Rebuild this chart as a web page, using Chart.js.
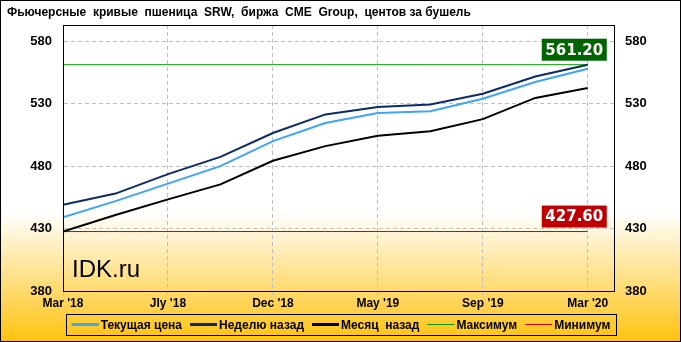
<!DOCTYPE html>
<html>
<head>
<meta charset="utf-8">
<script src="https://cdn.jsdelivr.net/npm/chart.js@4/dist/chart.umd.min.js"></script>
<style>
    html, body { margin: 0; padding: 0; background: #fff; }
    canvas { display: block; }
</style>
</head>
<body>
<canvas id="futuresChart" width="681" height="342"></canvas>
<script>
// Данные графика
const xLabels = ["Mar '18", "May '18", "Jly '18", "Sep '18", "Dec '18", "Mar '19", "May '19", "Jly '19", "Sep '19", "Dec '19", "Mar '20"];
const currentPrice = [439, 452, 466, 480, 500, 514.5, 522.5, 524, 534, 547.3, 558];
const weekAgo = [449, 458, 473.6, 487.4, 506.5, 521.4, 527.3, 529.4, 538, 551.8, 561.2];
const monthAgo = [427.6, 440.8, 453.4, 465.4, 484.3, 496, 504.3, 508, 517.6, 534.6, 542.6];
const maxValue = 561.2;
const minValue = 427.6;
const yTicks = [380, 430, 480, 530, 580];
const xTickIndexes = [0, 2, 4, 6, 8, 10];
const seriesNames = ['Текущая цена', 'Неделю назад', 'Месяц  назад', 'Максимум', 'Минимум'];
const titleText = 'Фьючерсные  кривые  пшеница  SRW,  биржа  CME  Group,  центов за бушель';

const FONT = "'Liberation Sans', Arial, sans-serif";

function toPoints(values) {
    return values.map((v, i) => ({ x: i, y: v }));
}

function flatLine(value) {
    return [{ x: 0, y: value }, { x: xLabels.length - 1, y: value }];
}

// Фон, рамка и заголовок
const backgroundPlugin = {
    id: 'background',
    beforeDraw(chart) {
        const ctx = chart.ctx;
        const w = chart.width, h = chart.height;
        const grad = ctx.createLinearGradient(0, 0, 0, h);
        grad.addColorStop(0, '#ffffff');
        grad.addColorStop(0.62, '#ffffff');
        grad.addColorStop(1, '#ffc20e');
        ctx.save();
        ctx.fillStyle = grad;
        ctx.fillRect(0, 0, w, h);
        ctx.strokeStyle = '#000';
        ctx.lineWidth = 1;
        ctx.strokeRect(0.5, 0.5, w - 1, h - 1);
        ctx.fillStyle = '#000';
        ctx.font = 'bold 12px ' + FONT;
        ctx.textBaseline = 'middle';
        ctx.fillText(titleText, 7, 13);
        ctx.restore();
    },
    afterDraw(chart) {
        const ctx = chart.ctx;
        const a = chart.chartArea;
        ctx.save();
        ctx.strokeStyle = '#000';
        ctx.lineWidth = 1;
        ctx.strokeRect(Math.round(a.left) + 0.5, Math.round(a.top) + 0.5,
            Math.round(a.right - a.left), Math.round(a.bottom - a.top));
        ctx.restore();
    }
};

// Подписи максимума и минимума + водяной знак
const markersPlugin = {
    id: 'markers',
    afterDatasetsDraw(chart) {
        const ctx = chart.ctx;
        const xs = chart.scales.x, ys = chart.scales.y;
        const right = xs.getPixelForValue(xLabels.length - 1) + 19;
        const boxes = [
            { value: maxValue, bg: '#006400' },
            { value: minValue, bg: '#c00000' }
        ];
        ctx.save();
        ctx.font = 'bold 15px "DejaVu Sans", sans-serif';
        ctx.textAlign = 'center';
        ctx.textBaseline = 'middle';
        boxes.forEach(b => {
            const y = ys.getPixelForValue(b.value);
            const bw = 65, bh = 22;
            const left = right - bw;
            const top = y - 4 - bh;
            ctx.fillStyle = b.bg;
            ctx.fillRect(left, top, bw, bh);
            ctx.fillStyle = '#fff';
            ctx.fillText(b.value.toFixed(2), left + bw / 2, top + bh / 2 + 1);
        });
        ctx.textAlign = 'left';
        ctx.textBaseline = 'alphabetic';
        ctx.fillStyle = '#000';
        ctx.font = '24px ' + FONT;
        ctx.fillText('IDK.ru', 72, 277);
        ctx.restore();
    }
};

// Легенда в рамке снизу
const legendBoxPlugin = {
    id: 'legendBox',
    afterDraw(chart) {
        const ctx = chart.ctx;
        const boxLeft = 66, boxRight = 616, boxTop = 314, boxBottom = 335;
        ctx.save();
        ctx.font = 'bold 12px ' + FONT;
        const sample = 27, gap = 2, itemGap = 8;
        const items = chart.data.datasets.map(ds => ({
            text: ds.label,
            color: ds.borderColor,
            width: ds.borderWidth,
            tw: ctx.measureText(ds.label).width
        }));
        let total = 0;
        items.forEach((it, i) => {
            total += sample + gap + it.tw + (i < items.length - 1 ? itemGap : 0);
        });
        let x = (boxLeft + boxRight) / 2 - total / 2;
        const cy = (boxTop + boxBottom) / 2;
        ctx.strokeStyle = '#000';
        ctx.lineWidth = 1;
        ctx.strokeRect(boxLeft + 0.5, boxTop + 0.5, boxRight - boxLeft, boxBottom - boxTop);
        ctx.textBaseline = 'middle';
        items.forEach(it => {
            ctx.strokeStyle = it.color;
            ctx.lineWidth = it.width > 1 ? 3 : 1;
            ctx.beginPath();
            ctx.moveTo(x, cy);
            ctx.lineTo(x + sample, cy);
            ctx.stroke();
            x += sample + gap;
            ctx.fillStyle = '#000';
            ctx.fillText(it.text, x, cy + 1);
            x += it.tw + itemGap;
        });
        ctx.restore();
    }
};

const gridStyle = {
    color: '#bfbfbf',
    lineWidth: 1
};
// пунктир сетки (в v4 задаётся через border.dash)
const dashedBorder = { display: true, color: 'rgba(0,0,0,0)', dash: [4, 3] };

function fixTicks(values) {
    return scale => { scale.ticks = values.map(v => ({ value: v })); };
}

new Chart(document.getElementById('futuresChart'), {
    type: 'line',
    data: {
        datasets: [
            { label: seriesNames[0], data: toPoints(currentPrice), borderColor: '#3da5f4', borderWidth: 2 },
            { label: seriesNames[1], data: toPoints(weekAgo), borderColor: '#0c2a66', borderWidth: 2 },
            { label: seriesNames[2], data: toPoints(monthAgo), borderColor: '#000000', borderWidth: 2 },
            { label: seriesNames[3], data: flatLine(maxValue), borderColor: '#009900', borderWidth: 1 },
            { label: seriesNames[4], data: flatLine(minValue), borderColor: '#cc0000', borderWidth: 1 }
        ].map(ds => Object.assign(ds, { pointRadius: 0, tension: 0, fill: false }))
    },
    options: {
        responsive: false,
        animation: false,
        devicePixelRatio: 1,
        layout: { padding: { top: 25, left: 0, right: 0, bottom: 0 } },
        plugins: {
            legend: { display: false },
            tooltip: { enabled: false }
        },
        scales: {
            x: {
                type: 'linear',
                min: 0,
                max: 10.5,
                afterBuildTicks: fixTicks(xTickIndexes),
                afterFit(scale) { scale.height = 51; },
                grid: Object.assign({ tickLength: 4 }, gridStyle),
                border: dashedBorder,
                ticks: {
                    autoSkip: false,
                    maxRotation: 0,
                    padding: 1,
                    color: '#000',
                    font: { family: FONT, size: 12, weight: 'bold' },
                    callback: v => xLabels[v] || ''
                }
            },
            y: {
                position: 'left',
                min: 380,
                max: 593,
                afterBuildTicks: fixTicks(yTicks),
                afterFit(scale) { scale.width = 63; },
                grid: Object.assign({ drawTicks: false }, gridStyle),
                border: dashedBorder,
                ticks: {
                    padding: 11,
                    color: '#000',
                    font: { family: FONT, size: 13, weight: 'bold' }
                }
            },
            y2: {
                position: 'right',
                min: 380,
                max: 593,
                afterBuildTicks: fixTicks(yTicks),
                afterFit(scale) { scale.width = 67; },
                grid: { display: false, drawTicks: false },
                border: { display: false },
                ticks: {
                    padding: 11,
                    color: '#000',
                    font: { family: FONT, size: 13, weight: 'bold' }
                }
            }
        }
    },
    plugins: [backgroundPlugin, markersPlugin, legendBoxPlugin]
});
</script>
</body>
</html>
